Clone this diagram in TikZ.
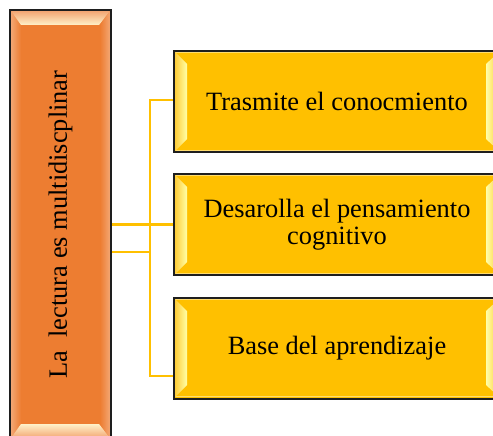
\documentclass[tikz,border=0pt]{standalone}
\usepackage{fontspec}
\setmainfont{Liberation Serif}
\usetikzlibrary{calc}
\definecolor{orbox}{HTML}{ED7D31}
\definecolor{orlight}{HTML}{F3A673}
\definecolor{orcream}{HTML}{FFF1C8}
\definecolor{yebox}{HTML}{FFC000}
\definecolor{yegold}{HTML}{FFCE3A}
\definecolor{yebright}{HTML}{FFFFA8}
\definecolor{yeline}{HTML}{FFDC6E}
\definecolor{connc}{HTML}{FFC000}
\definecolor{edgec}{HTML}{1E1E1E}
\begin{document}
\begin{tikzpicture}[x=1pt,y=-1pt,
  boxtext/.style={font=\fontsize{26.4}{27}\selectfont},
  mainbox/.style={boxtext, draw=edgec, line width=2pt, fill=orbox, minimum width=101pt, minimum height=429pt, inner sep=0pt},
  itembox/.style={boxtext, draw=edgec, line width=2pt, fill=yebox, minimum width=326pt, minimum height=101pt, inner sep=0pt, align=center},
  connector/.style={draw=connc, line width=2.5pt}]
\useasboundingbox (0,0) rectangle (493,436);
\clip (0,0) rectangle (493,436);

% connectors (behind boxes)
\coordinate (j) at (150,252);
\coordinate (lectR) at (111,224.5);
\coordinate (b1L) at (174,100);
\coordinate (b2L) at (174,224.5);
\coordinate (b3L) at (174,376);
\draw[connector] (lectR) -- (b2L);
\draw[connector] (lectR |- j) -- (j);
\draw[connector] (j) |- (b1L);
\draw[connector] (j) |- (b3L);

% main box: fill, bevels, then the framed node with its text on top
\fill[orbox] (10,10) rectangle (111,439);
\shade[left color=orlight, right color=orbox] (11,11) -- (21,25) -- (21,424) -- (11,438) -- cycle;
\shade[left color=orbox, right color=orlight] (110,11) -- (100,25) -- (100,424) -- (110,438) -- cycle;
\shade[top color=orlight, bottom color=orcream] (11,11) -- (110,11) -- (99,25) -- (21,25) -- cycle;
\shade[top color=orcream, bottom color=orlight] (21,424) -- (99,424) -- (110,438) -- (11,438) -- cycle;
\node[mainbox, fill=none] (lect) at (60.5,224.5) {\rotatebox{90}{La\ \ lectura es multidiscplinar}};

% item boxes
\node[itembox] (b1) at (337,101.5) {Trasmite el conocmiento};
\node[itembox] (b2) at (337,224.5) {Desarolla el pensamiento\\cognitivo};
\node[itembox] (b3) at (337,348) {Base del aprendizaje};

\foreach \t/\b in {51/152, 174/275, 298/398}{
  \draw[yeline, line width=1.2pt] (175,\t+1.8) -- (499,\t+1.8);
  \draw[yeline, line width=1.2pt] (175,\b-1.8) -- (499,\b-1.8);
  \shade[left color=yegold, right color=yebright] (175,\t+1) -- (187,\t+13) -- (187,\b-13) -- (175,\b-1) -- cycle;
  \shade[left color=yebright, right color=yegold] (499,\t+1) -- (486,\t+13) -- (486,\b-13) -- (499,\b-1) -- cycle;
}
\end{tikzpicture}
\end{document}
